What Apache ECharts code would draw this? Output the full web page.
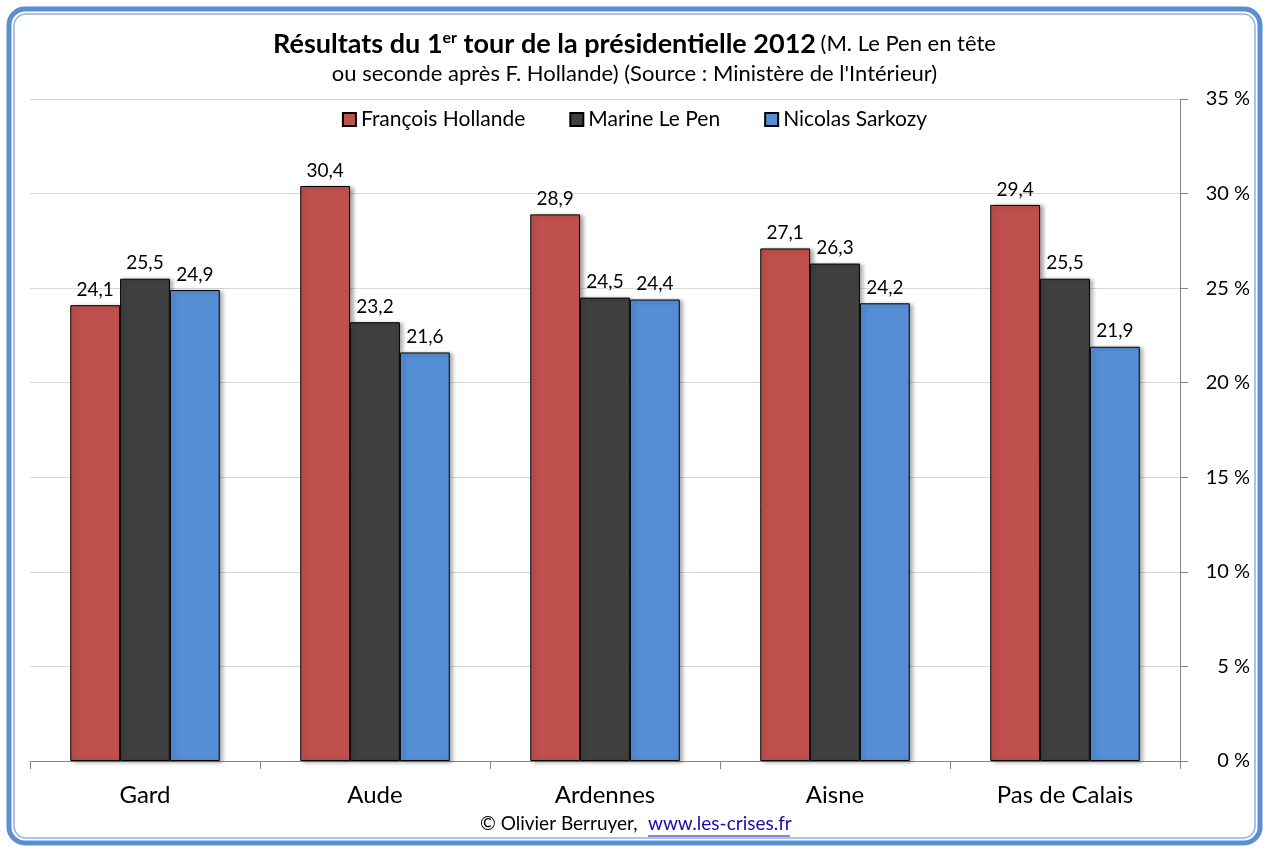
<!DOCTYPE html>
<html>
<head>
<meta charset="utf-8">
<script src="https://cdn.jsdelivr.net/npm/echarts@6/dist/echarts.min.js"></script>
<style>
  html,body{margin:0;padding:0;background:#fff;}
  #chart{width:1269px;height:853px;}
</style>
</head>
<body>
<div id="chart"></div>
<script>
"use strict";
/* données */
let departements = ['Gard','Aude','Ardennes','Aisne','Pas de Calais'];
let hollande = [24.1, 30.4, 28.9, 27.1, 29.4];
let lePen = [25.5, 23.2, 24.5, 26.3, 25.5];
let sarkozy = [24.9, 21.6, 24.4, 24.2, 21.9];
let seriesNames = ['François Hollande','Marine Le Pen','Nicolas Sarkozy'];

let font = "Lato, 'Open Sans', sans-serif";
let chart = echarts.init(document.getElementById('chart'));

function barSerie(name, data, color){
    return {
        type:'bar',
        name:name,
        data:data,
        barGap:'0%',
        barCategoryGap:'35%',
        itemStyle:{
            color:color,
            borderColor:'#000',
            borderWidth:1,
            shadowBlur:4,
            shadowOffsetX:3,
            shadowOffsetY:1,
            shadowColor:'rgba(0,0,0,0.35)'
        },
        label:{
            show:true,
            position:'top',
            distance:6,
            fontFamily:font,
            fontSize:19,
            color:'#000',
            formatter:p => String(p.value).replace('.', ',')
        }
    };
}

let option = {
    animation:false,
    textStyle:{fontFamily:font},
    title:{
        left:'center',
        top:24,
        text:"{b|Résultats du 1}{sup|er}{b| tour de la présidentielle 2012} {n|(M. Le Pen en tête}\n{n|ou seconde après F. Hollande) (Source : Ministère de l'Intérieur)}",
        textStyle:{
            fontWeight:'normal',
            rich:{
                b:{fontFamily:font,fontSize:27,fontWeight:'bold',color:'#000',lineHeight:30},
                sup:{fontFamily:font,fontSize:16,fontWeight:'bold',color:'#000',padding:[0,0,12,0],lineHeight:30},
                n:{fontFamily:font,fontSize:22,fontWeight:'normal',color:'#000',lineHeight:30}
            }
        }
    },
    legend:{
        top:104,
        left:'center',
        data:seriesNames,
        itemWidth:13,
        itemHeight:13,
        itemGap:44,
        icon:'rect',
        textStyle:{fontFamily:font,fontSize:21,color:'#000'}
    },
    grid:{left:30,right:89,top:99,bottom:92,containLabel:false},
    xAxis:{
        type:'category',
        data:departements,
        axisLine:{lineStyle:{color:'#868686'}},
        axisTick:{show:true,interval:0,length:8,lineStyle:{color:'#868686'}},
        axisLabel:{fontFamily:font,fontSize:24,color:'#000',margin:22}
    },
    yAxis:{
        type:'value',
        position:'right',
        min:0,
        max:35,
        interval:5,
        axisLine:{show:true,lineStyle:{color:'#868686'}},
        axisTick:{show:true,length:8,lineStyle:{color:'#868686'}},
        splitLine:{lineStyle:{color:'#d9d9d9'}},
        axisLabel:{fontFamily:font,fontSize:20,color:'#000',align:'right',margin:70,formatter:'{value} %'}
    },
    series:[
        barSerie(seriesNames[0], hollande, '#c0504d'),
        barSerie(seriesNames[1], lePen, '#404040'),
        barSerie(seriesNames[2], sarkozy, '#558ed5')
    ],
    graphic:[
        {type:'rect',shape:{x:9,y:9,width:1251,height:834,r:16},style:{fill:'none',stroke:'#5b8fd3',lineWidth:5},silent:true},
        {type:'rect',shape:{x:14,y:14,width:1241,height:824,r:12},style:{fill:'none',stroke:'#8fb1e0',lineWidth:1.5},silent:true},
        {type:'text',left:480,top:814,style:{text:'© Olivier Berruyer,',fontFamily:font,fontSize:19,fill:'#000'}},
        {type:'text',left:648,top:814,style:{text:'www.les-crises.fr',fontFamily:font,fontSize:19,fill:'#1a0dab'}},
        {type:'line',shape:{x1:648,y1:836,x2:790,y2:836},style:{stroke:'#1a0dab',lineWidth:1}}
    ]
};
chart.setOption(option);
</script>
</body>
</html>
